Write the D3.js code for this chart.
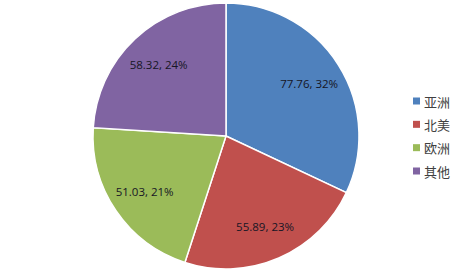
<!DOCTYPE html>
<html>
<head>
<meta charset="utf-8">
<script src="https://cdn.jsdelivr.net/npm/d3@7"></script>
<style>
  body { margin: 0; background: #fff; }
  svg { display: block; }
</style>
</head>
<body>
<div id="chart"></div>
<script>
const categories = ["亚洲", "北美", "欧洲", "其他"];
const values = [77.76, 55.89, 51.03, 58.32];
const percentLabels = ["32%", "23%", "21%", "24%"];
const colors = ["#4F81BD", "#C0504D", "#9BBB59", "#8064A2"];

const width = 471, height = 278;
const cx = 226, cy = 136, radius = 133;

const svg = d3.select("#chart").append("svg")
  .attr("width", width).attr("height", height);

const data = categories.map((c, i) => ({ name: c, value: values[i], pct: percentLabels[i], color: colors[i] }));

const pie = d3.pie().sort(null).value(d => d.value);
const arc = d3.arc().innerRadius(0).outerRadius(radius);
const labelArc = d3.arc().innerRadius(radius * 0.74).outerRadius(radius * 0.74);

const g = svg.append("g").attr("transform", `translate(${cx},${cy})`);

const slices = g.selectAll(".slice")
  .data(pie(data)).join("g")
  .attr("class", "slice");

slices.append("path")
  .attr("d", arc)
  .attr("fill", d => d.data.color)
  .attr("stroke", "#fff")
  .attr("stroke-width", 1.5);

slices.append("text")
  .attr("transform", d => `translate(${labelArc.centroid(d)})`)
  .attr("text-anchor", "middle")
  .attr("dominant-baseline", "central")
  .style("font-family", "'Open Sans', sans-serif")
  .style("font-size", "11.5px")
  .style("fill", "#161625")
  .text(d => `${d.data.value.toFixed(2)}, ${d.data.pct}`);

// legend
const legendY = d3.scalePoint().domain(categories).range([101, 171]);
const legend = svg.append("g").attr("class", "legend");
const items = legend.selectAll(".legend-item")
  .data(data).join("g")
  .attr("class", "legend-item")
  .attr("transform", d => `translate(413,${legendY(d.name)})`);

items.append("rect")
  .attr("x", 0).attr("y", -3.5)
  .attr("width", 7).attr("height", 7)
  .attr("fill", d => d.color);

items.append("text")
  .attr("x", 11).attr("y", 0)
  .attr("dominant-baseline", "central")
  .style("font-family", "'Noto Sans CJK SC', sans-serif")
  .style("font-size", "13px")
  .style("fill", "#404040")
  .text(d => d.name);
</script>
</body>
</html>
